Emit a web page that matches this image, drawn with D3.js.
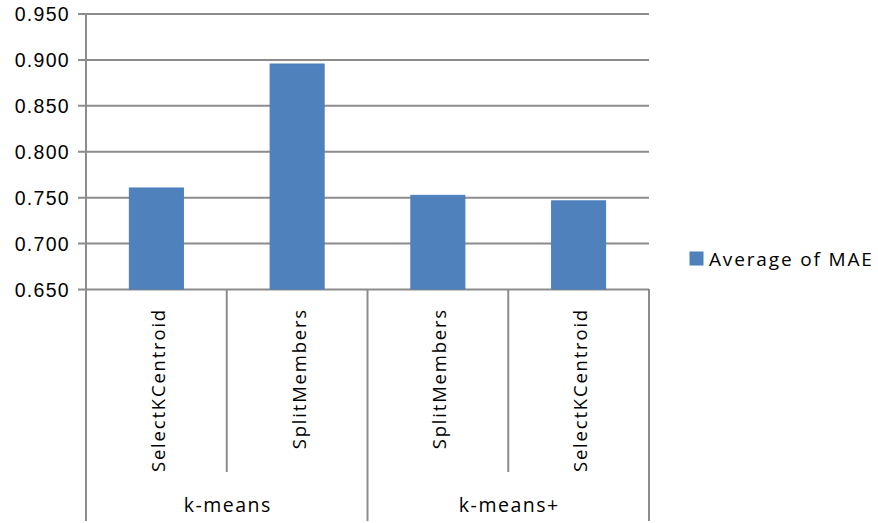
<!DOCTYPE html>
<html>
<head>
<meta charset="utf-8">
<script src="https://cdn.jsdelivr.net/npm/d3@7"></script>
<style>
  html, body { margin: 0; padding: 0; background: #fff; }
  svg { display: block; font-family: "Open Sans", sans-serif; }
</style>
</head>
<body>
<svg id="chart" width="878" height="523"></svg>
<script>
// Average MAE by clustering method and centroid strategy
const groups = ["k-means", "k-means+"];
const categories = ["SelectKCentroid", "SplitMembers", "SplitMembers", "SelectKCentroid"];
const categoryGroup = ["k-means", "k-means", "k-means+", "k-means+"];
const mae = [0.760, 0.895, 0.752, 0.746];
const yTicks = [0.650, 0.700, 0.750, 0.800, 0.850, 0.900, 0.950];
const seriesName = "Average of MAE";

const svg = d3.select("#chart");
const plotLeft = 86, plotRight = 649, plotTop = 13.5, plotBottom = 289;
const gridColor = "#8c8c8c";
const barColor = "#4f81bd";
const textColor = "#000";

const idx = categories.map((_, i) => i);
const x = d3.scaleBand()
  .domain(idx)
  .range([plotLeft, plotRight])
  .paddingInner(0.616)
  .paddingOuter(0.308);
const step = x.step();

const y = d3.scaleLinear().domain([0.65, 0.95]).range([plotBottom, plotTop]);

// horizontal gridlines with short tick stubs on the left
const yAxis = d3.axisLeft(y)
  .tickValues(yTicks)
  .tickSize(-(plotRight - plotLeft))
  .tickSizeOuter(0)
  .tickPadding(16)
  .tickFormat(d3.format(".3f"));

const gy = svg.append("g").attr("transform", `translate(${plotLeft},0)`).call(yAxis);
gy.select(".domain").remove();
gy.selectAll(".tick line")
  .attr("x1", -8)
  .attr("stroke", gridColor)
  .attr("stroke-width", 2);
gy.selectAll(".tick text")
  .attr("font-size", 19.5)
  .attr("letter-spacing", "1.3px")
  .attr("fill", textColor)
  .attr("dy", "0.36em");

// vertical axis line
svg.append("line")
  .attr("x1", plotLeft).attr("x2", plotLeft)
  .attr("y1", plotTop).attr("y2", plotBottom)
  .attr("stroke", gridColor).attr("stroke-width", 2);

// bars
svg.append("g").selectAll("rect")
  .data(idx)
  .join("rect")
  .attr("x", i => x(i))
  .attr("width", x.bandwidth())
  .attr("y", i => y(mae[i]))
  .attr("height", i => y(0.65) - y(mae[i]))
  .attr("fill", barColor)
  .attr("stroke", "#4a7ebb")
  .attr("stroke-width", 1);

// category dividers below the axis: short ones inside a group, long ones between groups
const boundaries = d3.range(categories.length + 1).map(k => plotLeft + k * step);
svg.append("g").selectAll("line")
  .data(boundaries)
  .join("line")
  .attr("x1", d => d).attr("x2", d => d)
  .attr("y1", plotBottom)
  .attr("y2", (d, k) => (k === 0 || k === categories.length || categoryGroup[k] !== categoryGroup[k - 1]) ? 521 : 472)
  .attr("stroke", gridColor)
  .attr("stroke-width", 2);

// rotated category labels
svg.append("g").selectAll("text")
  .data(idx)
  .join("text")
  .attr("transform", i => `translate(${x(i) + x.bandwidth() / 2 + 1},308) rotate(-90)`)
  .attr("text-anchor", "end")
  .attr("dominant-baseline", "central")
  .attr("font-size", 18.5)
  .attr("letter-spacing", "1.8px")
  .attr("fill", textColor)
  .text(i => categories[i]);

// group labels centred under their categories
svg.append("g").selectAll("text")
  .data(groups)
  .join("text")
  .attr("x", g => {
    const members = idx.filter(i => categoryGroup[i] === g);
    const x0 = x(members[0]) + x.bandwidth() / 2;
    const x1 = x(members[members.length - 1]) + x.bandwidth() / 2;
    return (x0 + x1) / 2 + 1;
  })
  .attr("y", 512)
  .attr("text-anchor", "middle")
  .attr("font-size", 19.5)
  .attr("letter-spacing", "1.5px")
  .attr("fill", textColor)
  .text(d => d);

// legend
const legend = svg.append("g").attr("transform", "translate(690,252)");
legend.append("rect").attr("width", 13).attr("height", 13).attr("fill", barColor).attr("stroke", "#4a7ebb");
legend.append("text")
  .attr("x", 19).attr("y", 13.5)
  .attr("font-size", 19)
  .attr("letter-spacing", "1.85px")
  .attr("fill", textColor)
  .text(seriesName);
</script>
</body>
</html>
